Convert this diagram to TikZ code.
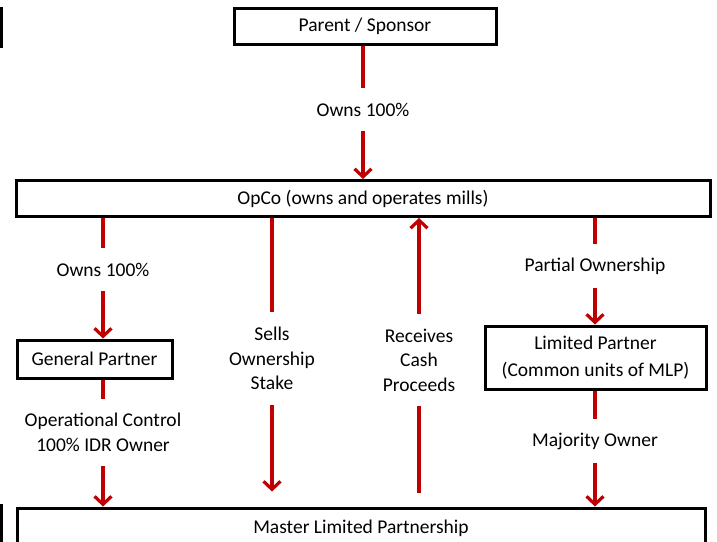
\documentclass[tikz,border=0pt]{standalone}
\usepackage{fontspec}
\setmainfont{Carlito}
\usetikzlibrary{arrows.meta}
\definecolor{arrred}{HTML}{C00000}
\tikzset{
  box/.style={draw=black, line width=3pt, fill=white, inner sep=0pt, align=center,
    font=\fontsize{19.5}{27}\selectfont},
  lbl/.style={inner sep=0pt, align=center, font=\fontsize{19.5}{24.5}\selectfont},
  conn/.style={draw=arrred, line width=3.2pt},
  tip/.style={conn, -{Straight Barb[length=8pt,width=17pt]}},
  tipup/.style={conn, {Straight Barb[length=8pt,width=17pt]}-},
}
\begin{document}
\begin{tikzpicture}[x=1pt,y=-1pt]
\useasboundingbox (0,0) rectangle (717,541);
% cut-off fragments at the left edge
\draw[line width=3pt] (1.5,7) -- (1.5,48);
\draw[line width=3pt] (1.5,504) -- (1.5,545);
% boxes
\node[box, minimum width=262pt, minimum height=36pt] (parent) at (365,26) {Parent / Sponsor};
\node[box, minimum width=694pt, minimum height=36pt] (opco) at (363,198.5) {OpCo (owns and operates mills)};
\node[box, minimum width=155pt, minimum height=38pt] (gp) at (94.5,359) {General Partner};
\node[box, minimum width=221pt, minimum height=63pt] (lp) at (595.5,357.5) {Limited Partner\\(Common units of MLP)};
\node[box, minimum width=688pt, minimum height=40pt] (mlp) at (361,528) {Master Limited Partnership};
% labels
\node[lbl, minimum height=43pt] (l1) at (363,109.5) {Owns 100\%};
\node[lbl, minimum height=43pt] (l2) at (103,269.5) {Owns 100\%};
\node[lbl, minimum height=67pt] (l3) at (103,432.5) {Operational Control\\100\% IDR Owner};
\node[lbl, minimum height=93pt] (l4) at (272,358.5) {Sells\\Ownership\\Stake};
\node[lbl, minimum height=92pt] (l5) at (419,360) {Receives\\Cash\\Proceeds};
\node[lbl, minimum height=44pt] (l6) at (595,266) {Partial Ownership};
\node[lbl, minimum height=43pt] (l7) at (595,441) {Majority Owner};
% connectors
\draw[conn] (l1.north |- parent.south) -- (l1.north);
\draw[tip] (l1.south) -- (l1.south |- opco.north);
\draw[conn] (l2.north |- opco.south) -- (l2.north);
\draw[tip] (l2.south) -- (l2.south |- gp.north);
\draw[conn] (l3.north |- gp.south) -- (l3.north);
\draw[tip] (l3.south) -- (l3.south |- mlp.north);
\draw[conn] (l4.north |- opco.south) -- (l4.north);
\draw[tip, shorten >=15pt] (l4.south) -- (l4.south |- mlp.north);
\draw[tipup] (l5.north |- opco.south) -- (l5.north);
\draw[conn, shorten >=14pt] (l5.south) -- (l5.south |- mlp.north);
\draw[conn] (l6.north |- opco.south) -- (l6.north);
\draw[tip] (l6.south) -- (l6.south |- lp.north);
\draw[conn] (l7.north |- lp.south) -- (l7.north);
\draw[tip] (l7.south) -- (l7.south |- mlp.north);
\end{tikzpicture}
\end{document}
